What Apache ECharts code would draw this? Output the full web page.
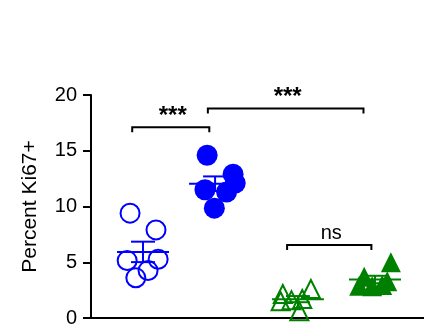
<!DOCTYPE html>
<html>
<head>
<meta charset="utf-8">
<script src="https://cdn.jsdelivr.net/npm/echarts@6/dist/echarts.min.js"></script>
<style>html,body{margin:0;padding:0;background:#fff}#c{width:424px;height:332px}</style>
</head>
<body>
<div id="c"></div>
<script>
// ---- data ----
const groupNames = ['Group 1', 'Group 2', 'Group 3', 'Group 4'];
const groupPos = [1, 2, 3.15, 4.22];
const g1 = [9.4, 7.9, 5.15, 5.27, 4.25, 3.6];
const g1Jitter = [-0.18, 0.18, -0.22, 0.21, 0.07, -0.10];
const g2 = [14.6, 12.9, 12.1, 11.5, 11.3, 9.85];
const g2Jitter = [-0.11, 0.25, 0.28, -0.14, 0.16, -0.01];
const g3 = [2.6, 1.7, 2.15, 0.6, 1.5, 1.6];
const g3Jitter = [0.18, 0.06, -0.21, 0.02, -0.24, -0.09];
const g4 = [5.0, 3.7, 2.9, 2.95, 3.3, 2.85];
const g4Jitter = [0.22, -0.15, -0.22, 0.10, 0.17, -0.04];
const yTicks = [0, 5, 10, 15, 20];
const bracketFrom = [0.85, 1.9, 3.0];
const bracketTo = [1.92, 4.06, 4.17];
const bracketY = [17.1, 18.8, 6.55];
const bracketText = ['***', '***', 'ns'];

// ---- helpers ----
const BLUE = '#0000FF', GREEN = '#008000';
const FONT = '"Liberation Sans", Arial, sans-serif';
function pts(vals, jit, gi) { return vals.map((v, i) => [groupPos[gi] + jit[i], v]); }
function stats(vals) {
  const n = vals.length, m = vals.reduce((a, b) => a + b, 0) / n;
  const sd = Math.sqrt(vals.reduce((a, b) => a + (b - m) * (b - m), 0) / (n - 1));
  return [m, sd / Math.sqrt(n)];
}
const allGroups = [g1, g2, g3, g4];
const colors = [BLUE, BLUE, GREEN, GREEN];
const errData = allGroups.map((g, i) => { const s = stats(g); return [groupPos[i], s[0], s[1], i]; });

const chart = echarts.init(document.getElementById('c'));
chart.setOption({
  animation: false,
  grid: { left: 91, right: 0, top: 95, bottom: 14, containLabel: false },
  xAxis: {
    type: 'value', min: 0.278, max: 4.9,
    axisLine: { show: true, onZero: false, lineStyle: { color: '#000', width: 2 } },
    axisTick: { show: false }, axisLabel: { show: false }, splitLine: { show: false }
  },
  yAxis: {
    type: 'value', min: 0, max: 20, interval: 5,
    name: 'Percent Ki67+', nameLocation: 'middle', nameGap: 50,
    nameTextStyle: { fontFamily: FONT, fontSize: 21, color: '#000' },
    axisLine: { show: true, lineStyle: { color: '#000', width: 2 } },
    axisTick: { show: true, length: 8, lineStyle: { color: '#000', width: 2 } },
    axisLabel: { margin: 14, fontFamily: FONT, fontSize: 20, color: '#000',
      formatter: v => (yTicks.indexOf(v) >= 0 ? String(v) : '') },
    splitLine: { show: false }
  },
  series: [
    { type: 'scatter', data: pts(g1, g1Jitter, 0), symbol: 'circle', symbolSize: 19,
      itemStyle: { color: 'rgba(0,0,0,0)', borderColor: BLUE, borderWidth: 2, opacity: 1 } },
    { type: 'scatter', data: pts(g2, g2Jitter, 1), symbol: 'circle', symbolSize: 21,
      itemStyle: { color: BLUE, opacity: 1 } },
    { type: 'scatter', data: pts(g3, g3Jitter, 2), symbol: 'triangle', symbolSize: [18, 18],
      itemStyle: { color: 'rgba(0,0,0,0)', borderColor: GREEN, borderWidth: 2, opacity: 1 } },
    { type: 'scatter', data: pts(g4, g4Jitter, 3), symbol: 'triangle', symbolSize: [20, 20],
      itemStyle: { color: GREEN, opacity: 1 } },
    { type: 'custom', data: errData, z: 5,
      renderItem: function (params, api) {
        const x = api.value(0), m = api.value(1), s = api.value(2), gi = api.value(3);
        const c = api.coord([x, m]), top = api.coord([x, m + s]), bot = api.coord([x, m - s]);
        const st = { stroke: colors[gi], lineWidth: 2, fill: null };
        return { type: 'group', children: [
          { type: 'line', shape: { x1: c[0] - 26, y1: c[1], x2: c[0] + 26, y2: c[1] }, style: st },
          { type: 'line', shape: { x1: c[0], y1: top[1], x2: c[0], y2: bot[1] }, style: st },
          { type: 'line', shape: { x1: c[0] - 12, y1: top[1], x2: c[0] + 12, y2: top[1] }, style: st },
          { type: 'line', shape: { x1: c[0] - 12, y1: bot[1], x2: c[0] + 12, y2: bot[1] }, style: st }
        ] };
      } },
    { type: 'custom', z: 6,
      data: bracketFrom.map((f, i) => [f, bracketTo[i], bracketY[i], i]),
      renderItem: function (params, api) {
        const i = api.value(3);
        const p1 = api.coord([api.value(0), api.value(2)]), p2 = api.coord([api.value(1), api.value(2)]);
        const stars = bracketText[i] === '***';
        return { type: 'group', children: [
          { type: 'polyline', shape: { points: [[p1[0], p1[1] + 5], [p1[0], p1[1]], [p2[0], p2[1]], [p2[0], p2[1] + 5]] },
            style: { stroke: '#000', lineWidth: 2, fill: null } },
          { type: 'text', style: { text: bracketText[i], x: (p1[0] + p2[0]) / 2 + 2, y: p1[1] + (stars ? 1 : -1),
            align: 'center', verticalAlign: 'bottom', fontFamily: FONT, fontSize: stars ? 24 : 20,
            fontWeight: stars ? 'bold' : 'normal', fill: '#000' } }
        ] };
      } }
  ]
});
</script>
</body>
</html>
